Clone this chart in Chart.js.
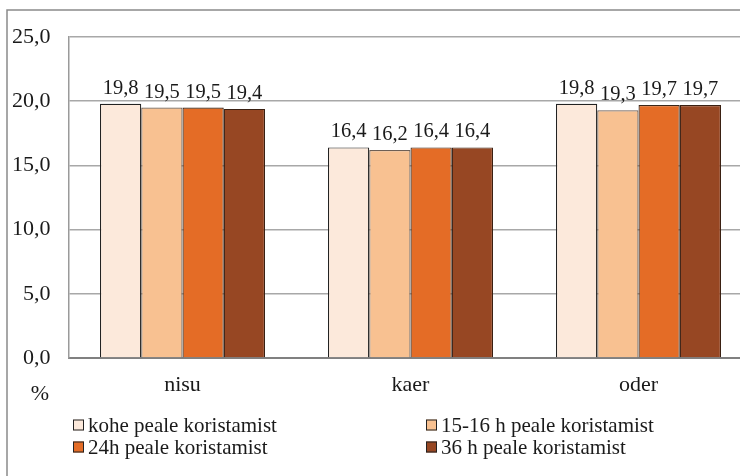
<!DOCTYPE html>
<html>
<head>
<meta charset="utf-8">
<script src="https://cdn.jsdelivr.net/npm/chart.js@4/dist/chart.umd.min.js"></script>
<style>
  html, body { margin: 0; padding: 0; background: #fff; overflow: hidden; }
  #wrap { position: absolute; left: 0; top: 0; width: 780px; height: 476px; }
</style>
</head>
<body>
<div id="wrap"><canvas id="c" width="780" height="476"></canvas></div>
<script>
// Grain moisture (%) after harvest, by time of measurement
const categories = ['nisu', 'kaer', 'oder'];
const seriesLabels = [
  'kohe peale koristamist',
  '15-16 h peale koristamist',
  '24h peale koristamist',
  '36 h peale koristamist'
];
const kohe = [19.8, 16.4, 19.8];
const h15_16 = [19.5, 16.2, 19.3];
const h24 = [19.5, 16.4, 19.7];
const h36 = [19.4, 16.4, 19.7];
const yTickLabels = ['0,0', '5,0', '10,0', '15,0', '20,0', '25,0'];
const axisUnit = '%';

const fills = ['#FCE9DB', '#F8C191', '#E46C26', '#974723'];
const edges = ['#222222', '#6e5f55', '#3a2618', '#3a2012'];
const serif = '"Liberation Serif", "Times New Roman", serif';
const txt = '#1a1a1a';

const fmt = v => v.toFixed(1).replace('.', ',');

// value labels above each bar
const valueLabels = {
  id: 'valueLabels',
  afterDatasetsDraw(chart) {
    const ctx = chart.ctx;
    ctx.save();
    ctx.font = '20.5px ' + serif;
    ctx.fillStyle = txt;
    ctx.textAlign = 'center';
    ctx.textBaseline = 'alphabetic';
    chart.data.datasets.forEach((ds, i) => {
      chart.getDatasetMeta(i).data.forEach((bar, j) => {
        ctx.fillText(fmt(ds.data[j]), bar.x, bar.y - 10);
      });
    });
    ctx.restore();
  }
};

// frame, unit label and two-column legend
const decorations = {
  id: 'decorations',
  afterDraw(chart) {
    const ctx = chart.ctx;
    ctx.save();
    ctx.strokeStyle = '#8a8a8a';
    ctx.lineWidth = 1.5;
    ctx.beginPath();
    ctx.moveTo(7, 480);
    ctx.lineTo(7, 10);
    ctx.lineTo(790, 10);
    ctx.stroke();

    ctx.fillStyle = txt;
    ctx.font = '22px ' + serif;
    ctx.textAlign = 'center';
    ctx.textBaseline = 'middle';
    ctx.fillText(axisUnit, 40, 394);

    const cols = [73, 426];
    const rows = [425, 447];
    ctx.font = '21px ' + serif;
    ctx.textAlign = 'left';
    seriesLabels.forEach((lab, i) => {
      const x = cols[i % 2];
      const y = rows[Math.floor(i / 2)];
      ctx.fillStyle = fills[i];
      ctx.fillRect(x, y - 5.5, 11, 11);
      ctx.strokeStyle = '#222';
      ctx.lineWidth = 1;
      ctx.strokeRect(x + 0.5, y - 5, 10, 10);
      ctx.fillStyle = txt;
      ctx.fillText(lab, x + 15, y + 1);
    });
    ctx.restore();
  }
};

const seriesData = [kohe, h15_16, h24, h36];

new Chart(document.getElementById('c'), {
  type: 'bar',
  data: {
    labels: categories,
    datasets: seriesData.map((d, i) => ({
      label: seriesLabels[i],
      data: d,
      backgroundColor: fills[i],
      borderColor: edges[i],
      borderWidth: 1.2,
      categoryPercentage: 0.724,
      barPercentage: 1.0
    }))
  },
  options: {
    responsive: false,
    animation: false,
    devicePixelRatio: 1,
    layout: { padding: { left: 0, top: 37, right: 27.5, bottom: 68 } },
    plugins: { legend: { display: false }, tooltip: { enabled: false } },
    scales: {
      x: {
        grid: { display: false, drawTicks: false },
        border: { display: true, color: '#808080', width: 2 },
        ticks: { font: { family: serif, size: 22 }, color: txt, padding: 14 },
        afterFit(scale) { scale.height = 50; }
      },
      y: {
        min: 0,
        max: 25,
        grid: { color: '#a8a8a8', lineWidth: 1.5, drawTicks: false },
        border: { display: true, color: '#9a9a9a', width: 1.5 },
        ticks: {
          stepSize: 5,
          padding: 18,
          font: { family: serif, size: 22 },
          color: txt,
          callback: (v, idx) => yTickLabels[idx]
        },
        afterFit(scale) { scale.width = 68.5; }
      }
    }
  },
  plugins: [valueLabels, decorations]
});
</script>
</body>
</html>
